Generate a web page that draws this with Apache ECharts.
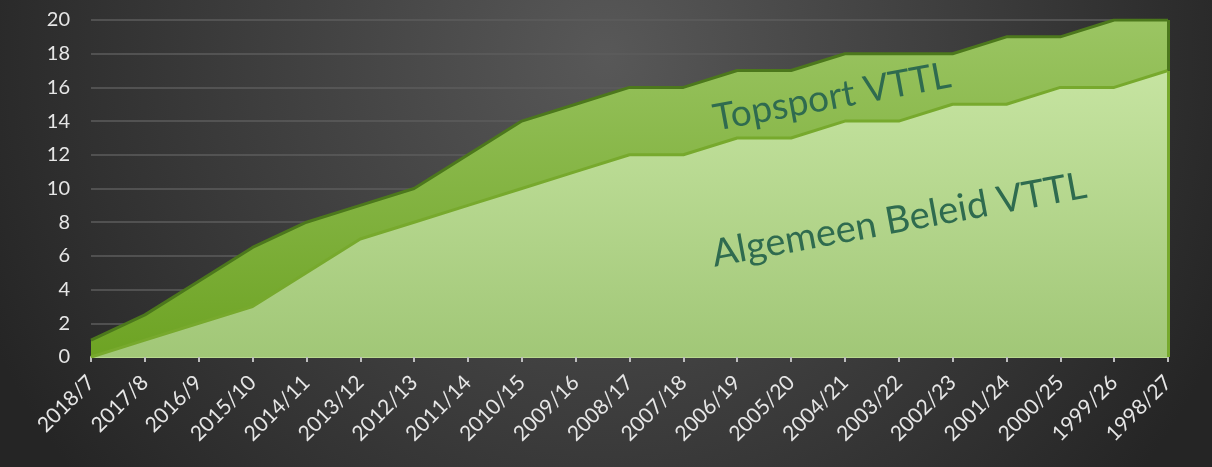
<!DOCTYPE html>
<html>
<head>
<meta charset="utf-8">
<script src="https://cdn.jsdelivr.net/npm/echarts@6/dist/echarts.min.js"></script>
<style>
  html, body { margin: 0; padding: 0; }
  #chart { width: 1212px; height: 467px; }
</style>
</head>
<body>
<div id="chart"></div>
<script>
// seasons, most recent first
var categories = ["2018/7", "2017/8", "2016/9", "2015/10", "2014/11", "2013/12", "2012/13",
    "2011/14", "2010/15", "2009/16", "2008/17", "2007/18", "2006/19", "2005/20", "2004/21",
    "2003/22", "2002/23", "2001/24", "2000/25", "1999/26", "1998/27"];

var algemeenBeleid = [0, 1, 2, 3, 5, 7, 8, 9, 10, 11, 12, 12, 13, 13, 14, 14, 15, 15, 16, 16, 17];
var topsport = [1, 1.5, 2.5, 3.5, 3, 2, 2, 3, 4, 4, 4, 4, 4, 4, 4, 4, 3, 4, 3, 4, 3];

var yTicks = { min: 0, max: 20, interval: 2 };

var labelFont = "Lato, 'Open Sans', sans-serif";
var lastCat = categories[categories.length - 1];
var lastLow = algemeenBeleid[algemeenBeleid.length - 1];
var lastTop = lastLow + topsport[topsport.length - 1];

var chart = echarts.init(document.getElementById("chart"));

var option = {
    backgroundColor: {
        type: "radial", x: 0.5, y: 0.12, r: 1.45,
        colorStops: [
            { offset: 0, color: "#585858" },
            { offset: 1, color: "#252525" }
        ]
    },
    animation: false,
    grid: { left: 91, right: 44, top: 20, bottom: 110 },
    xAxis: {
        type: "category",
        data: categories,
        boundaryGap: false,
        axisLine: { lineStyle: { color: "#b9d98f", width: 2 } },
        axisTick: { show: true, alignWithLabel: true, length: 5, lineStyle: { color: "#bdbdbd", width: 2 } },
        axisLabel: {
            interval: 0,
            rotate: 45,
            color: "#e6e6e6",
            fontSize: 21,
            fontFamily: labelFont,
            margin: 22
        }
    },
    yAxis: {
        type: "value",
        min: yTicks.min,
        max: yTicks.max,
        interval: yTicks.interval,
        axisLine: { show: false },
        axisTick: { show: false },
        axisLabel: { color: "#e6e6e6", fontSize: 20, fontFamily: labelFont, margin: 21 },
        splitLine: { lineStyle: { color: "#5c5c5c", width: 1.5 } }
    },
    series: [
        {
            name: "Algemeen Beleid VTTL",
            type: "line",
            stack: "total",
            data: algemeenBeleid,
            symbol: "none",
            lineStyle: { color: "#77a92d", width: 3 },
            areaStyle: {
                opacity: 1,
                color: {
                    type: "linear", x: 0, y: 0, x2: 0, y2: 1,
                    colorStops: [
                        { offset: 0, color: "#c6e4a1" },
                        { offset: 1, color: "#a1c777" }
                    ]
                }
            },
            markLine: {
                symbol: "none",
                silent: true,
                label: { show: false },
                lineStyle: { color: "#77a92d", width: 3, type: "solid" },
                data: [[{ coord: [lastCat, 0] }, { coord: [lastCat, lastLow] }]]
            },
            z: 3
        },
        {
            name: "Topsport VTTL",
            type: "line",
            stack: "total",
            data: topsport,
            symbol: "none",
            lineStyle: { color: "#4c781c", width: 3 },
            areaStyle: {
                opacity: 1,
                color: {
                    type: "linear", x: 0, y: 0, x2: 0, y2: 1,
                    colorStops: [
                        { offset: 0, color: "#9bc563" },
                        { offset: 1, color: "#6da323" }
                    ]
                }
            },
            markLine: {
                symbol: "none",
                silent: true,
                label: { show: false },
                lineStyle: { color: "#4c781c", width: 3, type: "solid" },
                data: [[{ coord: [lastCat, lastLow] }, { coord: [lastCat, lastTop] }]]
            },
            z: 2
        }
    ],
    graphic: [
        {
            type: "text",
            x: 832, y: 97,
            rotation: 10.5 * Math.PI / 180,
            style: {
                text: "Topsport VTTL",
                fill: "#2f6b4f",
                font: "37px " + labelFont,
                align: "center",
                verticalAlign: "middle"
            },
            z: 10
        },
        {
            type: "text",
            x: 899, y: 220,
            rotation: 10.5 * Math.PI / 180,
            style: {
                text: "Algemeen Beleid VTTL",
                fill: "#2f6b4f",
                font: "38px " + labelFont,
                align: "center",
                verticalAlign: "middle"
            },
            z: 10
        }
    ]
};

chart.setOption(option);
</script>
</body>
</html>
